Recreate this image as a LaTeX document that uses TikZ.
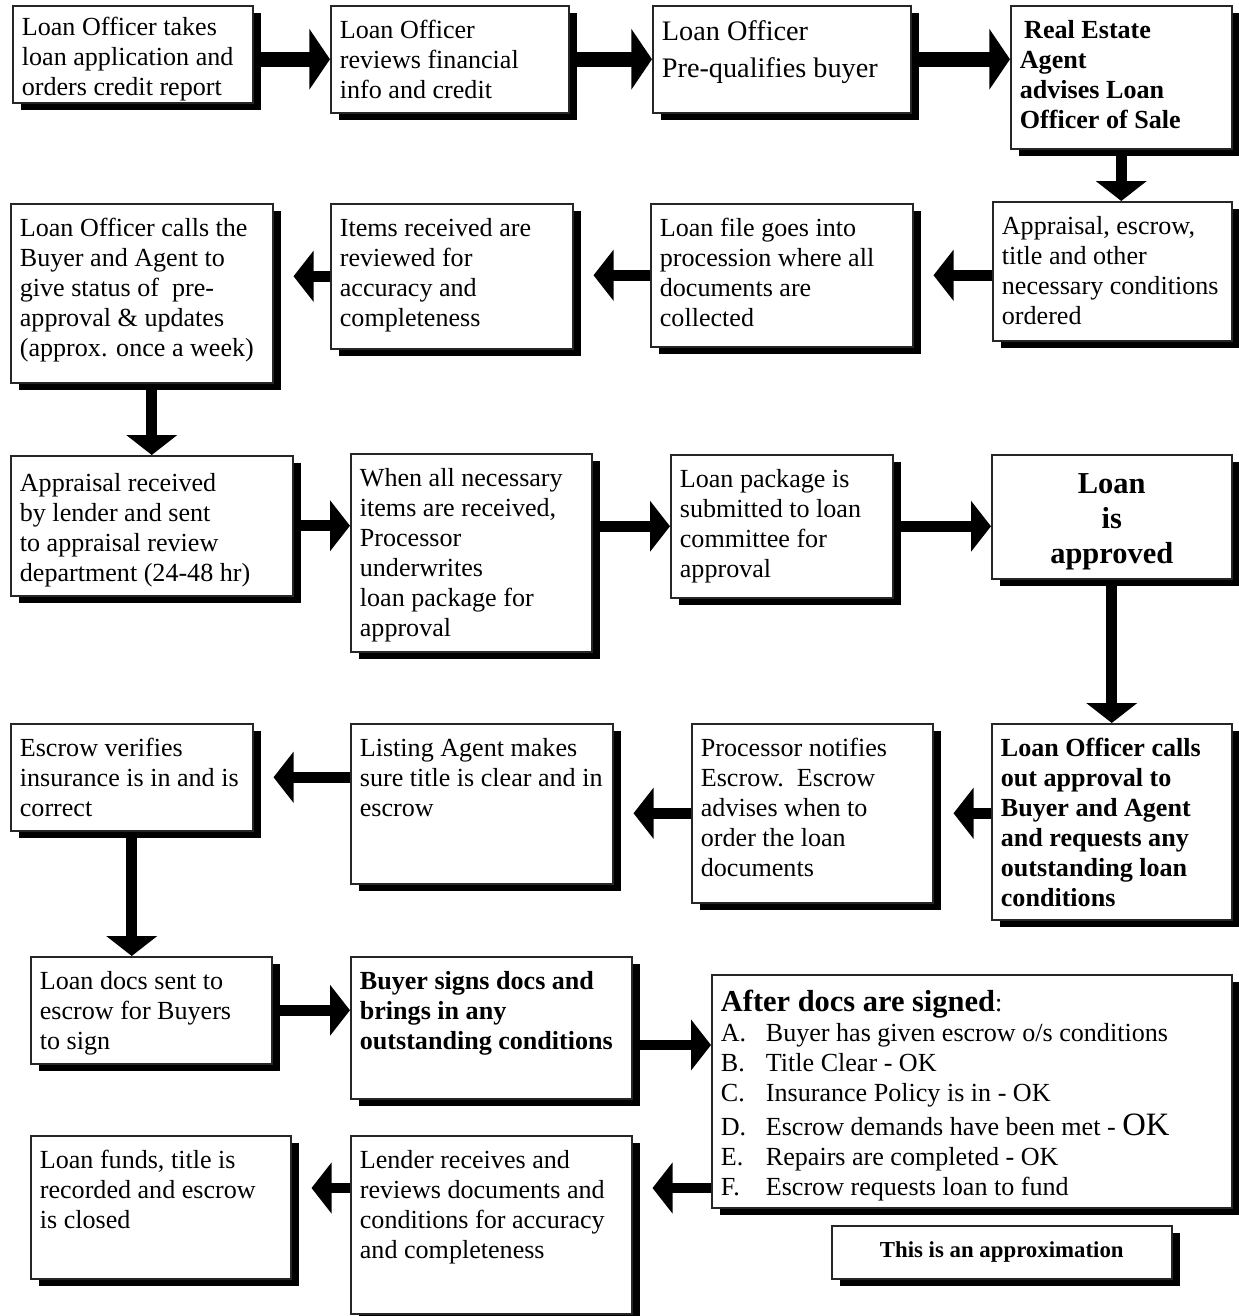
\documentclass[tikz,border=0pt]{standalone}
\usepackage{fontspec}
\setmainfont{Liberation Serif}
\usepackage{tikz}
\usetikzlibrary{arrows.meta,shadows}
\newlength\pxlen
\setlength\pxlen{0.46pt}
\newcommand\boxtext[4][1.5pt]{\parbox[c][\dimexpr#3\pxlen-8pt\relax][t]{\dimexpr#2\pxlen-8.4pt\relax}{\raggedright\vspace*{#1}\strut#4}}
\newcommand\listtag[1]{\makebox[45\pxlen][l]{#1}}
\tikzset{
  flowbox/.style={rectangle, draw=black!85, line width=0.7pt, fill=white, anchor=north west, inner xsep=4.2pt, inner ysep=4pt, font=\fontsize{12}{13.8}\selectfont, drop shadow={shadow xshift=3.6pt, shadow yshift=-3.3pt, fill=black, opacity=1}},
  boldbox/.style={flowbox, font=\fontsize{12}{13.8}\selectfont\bfseries},
  flowarr/.style={-{Triangle[length=9.2pt, width=23pt]}, line width=5pt, draw=black},
  bigarr/.style={flowarr, -{Triangle[length=9.5pt, width=27.5pt]}, line width=6.8pt},
  backarr/.style={flowarr, shorten >=9.2pt},
}
\begin{document}
\begin{tikzpicture}[x=\pxlen, y=-\pxlen]
  \useasboundingbox (0,0) rectangle (1239,1316);
  \node[flowbox] (b1) at (12,5) {\boxtext[0pt]{240}{97}{Loan Officer takes\\loan application and\\orders credit report}};
  \node[flowbox] (b2) at (330,5) {\boxtext{238}{107}{Loan Officer\\reviews financial\\info and credit}};
  \node[flowbox, font=\fontsize{13}{17}\selectfont] (b3) at (652,5) {\boxtext[0pt]{258}{107}{Loan Officer\\Pre-qualifies buyer}};
  \node[boldbox] (b4) at (1010,5) {\boxtext{221}{143}{\hspace{2pt}Real Estate\\Agent\\advises Loan\\Officer of Sale}};
  \node[flowbox] (b5) at (992,201) {\boxtext{239}{139}{Appraisal, escrow,\\title and other\\necessary conditions\\ordered}};
  \node[flowbox] (b6) at (650,203) {\boxtext{262}{143}{Loan file goes into\\procession where all\\documents are\\collected}};
  \node[flowbox] (b7) at (330,203) {\boxtext{242}{145}{Items received are\\reviewed for\\accuracy and\\completeness}};
  \node[flowbox] (b8) at (10,203) {\boxtext{262}{179}{Loan Officer calls the\\Buyer and Agent to\\give status of\ \ pre-\\approval \& updates\\(approx. once a week)}};
  \node[flowbox] (b9) at (10,455) {\boxtext[3pt]{282}{140}{Appraisal received\\by lender and sent\\to appraisal review\\department (24-48 hr)}};
  \node[flowbox] (b10) at (350,453) {\boxtext{241}{198}{When all necessary\\items are received,\\Processor\\underwrites\\loan package for\\approval}};
  \node[flowbox] (b11) at (670,454) {\boxtext{222}{143}{Loan package is\\submitted to loan\\committee for\\approval}};
  \node[boldbox, font=\fontsize{14}{16.1}\selectfont\bfseries] (b12) at (991,454) {\boxtext[2.7pt]{240}{124}{\centering Loan\\is\\approved}};
  \node[boldbox] (b13) at (991,723) {\boxtext{240}{196}{Loan Officer calls\\out approval to\\Buyer and Agent\\and requests any\\outstanding loan\\conditions}};
  \node[flowbox] (b14) at (691,723) {\boxtext{241}{179}{Processor notifies\\Escrow.\ \ Escrow\\advises when to\\order the loan\\documents}};
  \node[flowbox] (b15) at (350,723) {\boxtext{262}{160}{Listing Agent makes\\sure title is clear and in\\escrow}};
  \node[flowbox] (b16) at (10,723) {\boxtext{242}{107}{Escrow verifies\\insurance is in and is\\correct}};
  \node[flowbox] (b17) at (30,956) {\boxtext{241}{107}{Loan docs sent to\\escrow for Buyers\\to sign}};
  \node[boldbox] (b18) at (350,956) {\boxtext{281}{142}{Buyer signs docs and\\brings in any\\outstanding conditions}};
  \node[flowbox] (b19) at (711,974) {\boxtext[2.9pt]{520}{233}{{\fontsize{14}{13.8}\selectfont\bfseries After docs are signed}:\\
    \listtag{A.}Buyer has given escrow o/s conditions\\
    \listtag{B.}Title Clear - OK\\
    \listtag{C.}Insurance Policy is in - OK\\[2pt]
    \listtag{D.}Escrow demands have been met - {\fontsize{15}{13.8}\selectfont OK}\\
    \listtag{E.}Repairs are completed - OK\\
    \listtag{F.}Escrow requests loan to fund}};
  \node[boldbox, font=\fontsize{10.5}{12}\selectfont\bfseries, minimum width=340*\pxlen, minimum height=53*\pxlen] (note) at (831,1225) {This is an approximation};
  \node[flowbox] (b21) at (350,1135) {\boxtext{281}{178}{Lender receives and\\reviews documents and\\conditions for accuracy\\and completeness}};
  \node[flowbox] (b22) at (30,1135) {\boxtext{260}{143}{Loan funds, title is\\recorded and escrow\\is closed}};
  \coordinate (lvl5) at (0,1045);
  \coordinate (lvl6) at (0,1188);
  \draw[bigarr] (b2.west -| b1.east) -- (b2.west);
  \draw[bigarr] (b2.east) -- (b3.west);
  \draw[bigarr] (b3.east) -- (b3.east -| b4.west);
  \draw[flowarr] (b4.south) -- (b4.south |- b5.north);
  \draw[backarr] (b6.east -| b5.west) -- (b6.east);
  \draw[backarr] (b6.west) -- (b6.west -| b7.east);
  \draw[backarr] (b7.west) -- (b7.west -| b8.east);
  \draw[flowarr] (b9.north |- b8.south) -- (b9.north);
  \draw[flowarr] (b9.east) -- (b9.east -| b10.west);
  \draw[flowarr] (b11.west -| b10.east) -- (b11.west);
  \draw[flowarr] (b11.east) -- (b11.east -| b12.west);
  \draw[flowarr] (b12.south) -- (b12.south |- b13.north);
  \draw[backarr] (b14.east -| b13.west) -- (b14.east);
  \draw[backarr] (b14.west) -- (b14.west -| b15.east);
  \draw[backarr] (b16.east -| b15.west) -- (b16.east);
  \draw[flowarr] (b16.south) -- (b16.south |- b17.north);
  \draw[flowarr] (b17.east) -- (b17.east -| b18.west);
  \draw[flowarr] (b18.east |- lvl5) -- (b19.west |- lvl5);
  \draw[backarr] (b19.west |- lvl6) -- (b21.east |- lvl6);
  \draw[backarr] (b21.west |- lvl6) -- (b22.east |- lvl6);
\end{tikzpicture}
\end{document}
